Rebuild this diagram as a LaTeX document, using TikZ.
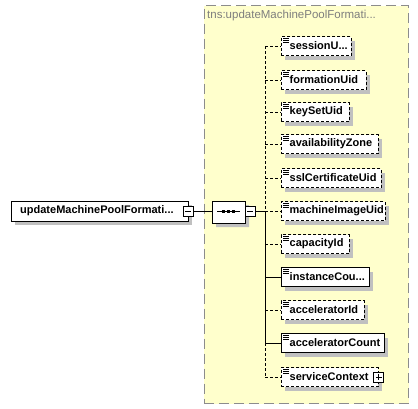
\documentclass[tikz,border=0pt]{standalone}
\usepackage{fontspec}
\setmainfont{Liberation Sans}
\usetikzlibrary{shadows,shapes.misc}
\definecolor{ybg}{HTML}{FFFFCC}
\definecolor{shd}{HTML}{C0C0C0}
\definecolor{frame}{HTML}{8C8C8C}
\tikzset{
  shd/.style={drop shadow={shadow xshift=4pt,shadow yshift=-4pt,fill=shd,opacity=1}},
  optline/.style={dash pattern=on 3pt off 2pt},
  solidline/.style={solid},
  kidbox/.style={draw=black,fill=white,anchor=west,minimum height=19pt,inner sep=0pt,line width=0.8pt,shd},
  kidtext/.style={anchor=west,inner sep=0pt,font=\bfseries\fontsize{11}{13}\selectfont},
  ctl/.style={draw=black,fill=white,minimum width=10pt,minimum height=10pt,inner sep=0pt,line width=0.7pt},
  minusbox/.style={ctl,path picture={\draw[line width=0.7pt] ([xshift=2pt]path picture bounding box.west) -- ([xshift=-2pt]path picture bounding box.east);}},
  plusbox/.style={ctl,path picture={\draw[line width=0.7pt] ([xshift=2pt]path picture bounding box.west) -- ([xshift=-2pt]path picture bounding box.east);
     \draw[line width=0.7pt] ([yshift=-2pt]path picture bounding box.north) -- ([yshift=2pt]path picture bounding box.south);}},
  conn/.style={line width=0.8pt},
}
\newcommand\kid[6]{%
  \node[kidbox,#5,minimum width=#3pt] (#1) at (281,#2) {};
  \node[kidtext] (#1t) at ([xshift=8.5pt,yshift=0.5pt]#1.west) {#4};
  \draw[line width=0.7pt] ([shift={(2,2)}]#1.north west) -- ++(6,0)
     ([shift={(2,4)}]#1.north west) -- ++(6,0)
     ([shift={(2,6)}]#1.north west) -- ++(6,0);
  \coordinate (s#1) at (265,#2);
  \draw[conn,#6] (s#1) -- (#1.west);
}
\begin{document}
\begin{tikzpicture}[x=1pt,y=-1pt]
\useasboundingbox (0,0) rectangle (418,408);
\fill[white] (0,0) rectangle (418,408);
% yellow frame
\node[draw=frame,fill=ybg,line width=1pt,dash pattern=on 10pt off 5pt,minimum width=204.5pt,minimum height=398pt,inner sep=0pt,anchor=north west] (frame) at (203.5,5) {};
\node[anchor=west,inner sep=0pt,text=frame!90!black,font=\fontsize{11.5}{13}\selectfont] (title) at (207,16) {tns:updateMachinePoolFormati...};
% root element
\node[draw=black,fill=white,line width=0.8pt,minimum width=177pt,minimum height=20pt,inner sep=0pt,anchor=west,shd] (root) at (11,211) {};
\node[kidtext] (roott) at ([xshift=9pt,yshift=0.5pt]root.west) {updateMachinePoolFormati...};
\node[minusbox] (rootm) at (188,211) {};
% sequence
\node[chamfered rectangle,chamfered rectangle xsep=5pt,chamfered rectangle ysep=5pt,draw=black,fill=white,line width=0.8pt,minimum width=33pt,minimum height=22pt,inner sep=0pt,shd] (seq) at (228.5,212) {};
\draw[line width=0.8pt] (217,211.5) -- (240,211.5);
\fill (222,210) rectangle (225,213);
\fill (227,210) rectangle (230,213);
\fill (232,210) rectangle (235,213);
\node[minusbox] (seqm) at (250,211) {};
\draw[conn] (rootm.east) -- (rootm.east -| seq.west);
% children
\kid{c1}{46}{70}{sessionU...}{optline}{optline}
\kid{c2}{80}{85}{formationUid}{optline}{optline}
\kid{c3}{112}{68}{keySetUid}{optline}{optline}
\kid{c4}{144}{97}{availabilityZone}{optline}{optline}
\kid{c5}{178}{100}{sslCertificateUid}{optline}{optline}
\kid{c6}{211}{104}{machineImageUid}{optline}{optline}
\kid{c7}{244}{68}{capacityId}{optline}{optline}
\kid{c8}{277}{88}{instanceCou...}{solidline}{solidline}
\kid{c9}{310}{83}{acceleratorId}{optline}{optline}
\kid{c10}{343}{103}{acceleratorCount}{solidline}{solidline}
\kid{c11}{377}{97}{serviceContext}{optline}{optline}
\node[plusbox] (c11p) at (c11.east) {};
% spine
\draw[conn,optline] (sc1) -- (sc6);
\draw[conn] (sc6) -- (sc10);
\draw[conn,optline] (sc10) -- (sc11);
\draw[conn] (seqm.east) -- (sc6);
\end{tikzpicture}
\end{document}
